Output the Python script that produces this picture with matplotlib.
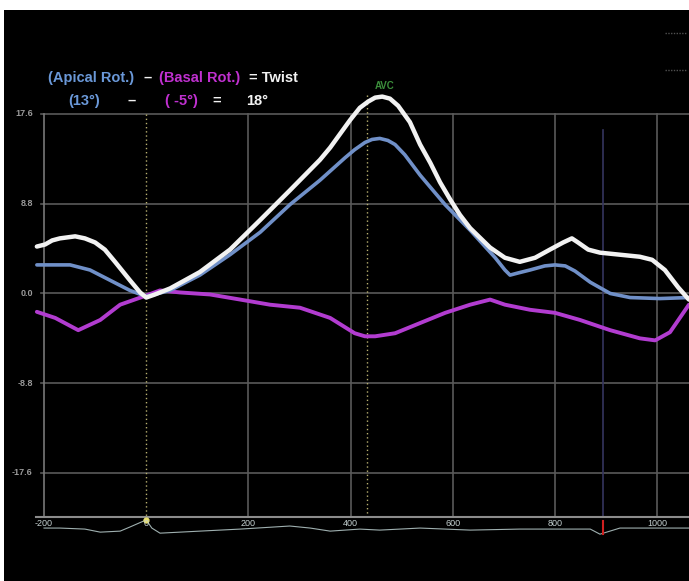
"""
Recreation of the LV twist chart: apical rotation, basal rotation and twist
over time, drawn on a dark echo-style background.
"""

import matplotlib.pyplot as plt

# ---- data (time in ms, rotation in degrees) ----
twist_t = [-214, -198, -184, -169, -139, -120, -100, -81, -61, -32, -12, 0, 17, 47,
           105, 164, 223, 281, 340, 360, 399, 418, 434, 448, 462, 477, 493, 516, 536,
           556, 575, 595, 614, 634, 673, 702, 731, 761, 790, 816, 833, 845, 865, 888,
           927, 966, 990, 1015, 1041, 1062]
twist_v = [4.6, 4.8, 5.2, 5.4, 5.6, 5.4, 5.0, 4.3, 3.1, 1.3, 0.1, -0.4, -0.1, 0.5,
           2.1, 4.3, 7.2, 10.1, 13.1, 14.3, 17.0, 18.2, 18.8, 19.2, 19.3, 19.1, 18.4,
           16.8, 14.6, 12.8, 10.9, 9.2, 7.7, 6.4, 4.5, 3.5, 3.1, 3.5, 4.3, 5.0, 5.4,
           5.0, 4.3, 4.0, 3.8, 3.6, 3.3, 2.3, 0.6, -0.6]

apical_t = [-214, -149, -110, -71, -32, 0, 47, 105, 164, 223, 281, 340, 389, 408,
            428, 442, 457, 473, 487, 506, 536, 585, 634, 683, 702, 712, 727, 751, 780,
            800, 820, 839, 869, 908, 947, 1005, 1062]
apical_v = [2.8, 2.8, 2.3, 1.3, 0.3, -0.3, 0.3, 1.8, 3.8, 6.0, 8.7, 11.1, 13.3, 14.1,
            14.8, 15.1, 15.2, 15.0, 14.6, 13.6, 11.6, 8.7, 6.2, 3.5, 2.3, 1.8, 2.0, 2.3,
            2.7, 2.8, 2.7, 2.2, 1.1, 0.0, -0.4, -0.5, -0.4]

basal_t = [-214, -178, -133, -90, -51, 0, 27, 66, 125, 184, 242, 301, 360, 408, 428,
           448, 487, 536, 585, 634, 673, 702, 751, 800, 849, 908, 966, 996, 1025, 1062]
basal_v = [-1.8, -2.4, -3.6, -2.6, -1.1, -0.2, 0.3, 0.1, -0.1, -0.6, -1.1, -1.4, -2.4,
           -3.9, -4.2, -4.2, -3.9, -2.9, -1.9, -1.1, -0.6, -1.1, -1.6, -1.9, -2.6, -3.6,
           -4.4, -4.6, -3.8, -1.1]

ecg_t = [-200, -169, -120, -90, -51, -32, 0, 11, 27, 105, 184, 281, 321, 360, 418,
         457, 536, 634, 731, 869, 888, 927, 1062]
ecg_v = [-23.0, -23.0, -23.1, -23.4, -23.3, -22.9, -22.2, -23.0, -23.5, -23.3, -23.1,
         -22.8, -23.0, -23.3, -23.1, -23.2, -23.0, -23.2, -23.1, -23.1, -23.6, -23.0, -23.0]

x_ticks = [-200, 0, 200, 400, 600, 800, 1000]
x_labels = ["-200", "0", "200", "400", "600", "800", "1000"]
y_ticks = [17.6, 8.8, 0.0, -8.8, -17.6]
y_labels = ["17.6", "8.8", "0.0", "-8.8", "-17.6"]

avc_time = 432
marker_time = 894
axis_level = -21.9

GRID = "#5a5a5a"
WHITE = "#f2f2f2"
BLUE = "#7090c8"
MAGENTA = "#b23cd0"

plt.rcParams["font.family"] = ["Liberation Sans", "DejaVu Sans"]

fig = plt.figure(figsize=(6.89, 5.81), dpi=100, facecolor="white")
ax = fig.add_axes([4 / 689, 0, 685 / 689, 571 / 581])
ax.set_facecolor("black")
ax.set_xlim(-278.3, 1062.2)
ax.set_ylim(-28.19, 27.79)
ax.set_xticks([])
ax.set_yticks([])
for s in ax.spines.values():
    s.set_visible(False)

# grid
for v in y_ticks:
    ax.plot([-205, 1062.2], [v, v], color=GRID, lw=1.2, zorder=1)
for t in x_ticks:
    if t == 0:
        continue
    ax.plot([t, t], [17.6, axis_level], color=GRID if t != -200 else "#777777",
            lw=1.2, zorder=1)

# event markers
ax.plot([0, 0], [17.6, axis_level], color="#b8b070", lw=1.0, ls=(0, (1, 2)), zorder=1)
ax.plot([avc_time, avc_time], [19.5, axis_level], color="#b8b070", lw=1.0,
        ls=(0, (1, 2)), zorder=1)
ax.text(avc_time + 35, 20.3, "AVC", color="#3c8f3c", fontsize=7, fontweight="bold",
        ha="center", va="center")
ax.plot([marker_time, marker_time], [16.0, axis_level], color="#34345e", lw=1.2, zorder=1)

# x axis line and ecg trace
ax.plot([-215, 1062.2], [axis_level, axis_level], color="#8c8c8c", lw=1.5, zorder=2)
ax.plot(ecg_t, ecg_v, color="#9fb0b0", lw=0.8, zorder=2)
ax.plot([0], [-22.2], marker="o", ms=3.5, color="#e8e070", zorder=3)
ax.plot([marker_time, marker_time], [-22.3, -23.6], color="#d02020", lw=1.5, zorder=3)

# curves
ax.plot(basal_t, basal_v, color=MAGENTA, lw=2.8, solid_joinstyle="round",
        solid_capstyle="round", zorder=4)
ax.plot(apical_t, apical_v, color=BLUE, lw=2.6, solid_joinstyle="round",
        solid_capstyle="round", zorder=5)
ax.plot(twist_t, twist_v, color=WHITE, lw=3.2, solid_joinstyle="round",
        solid_capstyle="round", zorder=6)

# tick labels
for v, lab in zip(y_ticks, y_labels):
    ax.text(-222, v, lab, color="#9a9a9a", fontsize=6.5, fontweight="bold",
            ha="right", va="center")
for t, lab in zip(x_ticks, x_labels):
    ax.text(t, -22.6, lab, color="#c4d0d0", fontsize=6.5, ha="center", va="center",
            zorder=3)

# faint marks at top right
ax.plot([0.965, 0.995], [0.96, 0.96], transform=ax.transAxes, color="#505050",
        lw=1, ls=(0, (1, 1)))
ax.plot([0.965, 0.995], [0.895, 0.895], transform=ax.transAxes, color="#505050",
        lw=1, ls=(0, (1, 1)))

# title formula
def put(px, py, s, color):
    fig.text(px / 689, 1 - py / 581, s, color=color, fontsize=10.5,
             fontweight="bold", ha="left", va="center")

put(48, 78, "(Apical Rot.)", "#6a98d8")
put(143, 78, "\u2013", WHITE)
put(159, 78, "(Basal Rot.)", "#c030d0")
put(249, 78, "= Twist", WHITE)
put(68, 101, "(13\u00b0)", "#6a98d8")
put(128, 101, "\u2013", WHITE)
put(165, 101, "( -5\u00b0)", "#c030d0")
put(212, 101, "=", WHITE)
put(246, 101, "18\u00b0", WHITE)

plt.savefig("out.png", dpi=100, facecolor=fig.get_facecolor())
